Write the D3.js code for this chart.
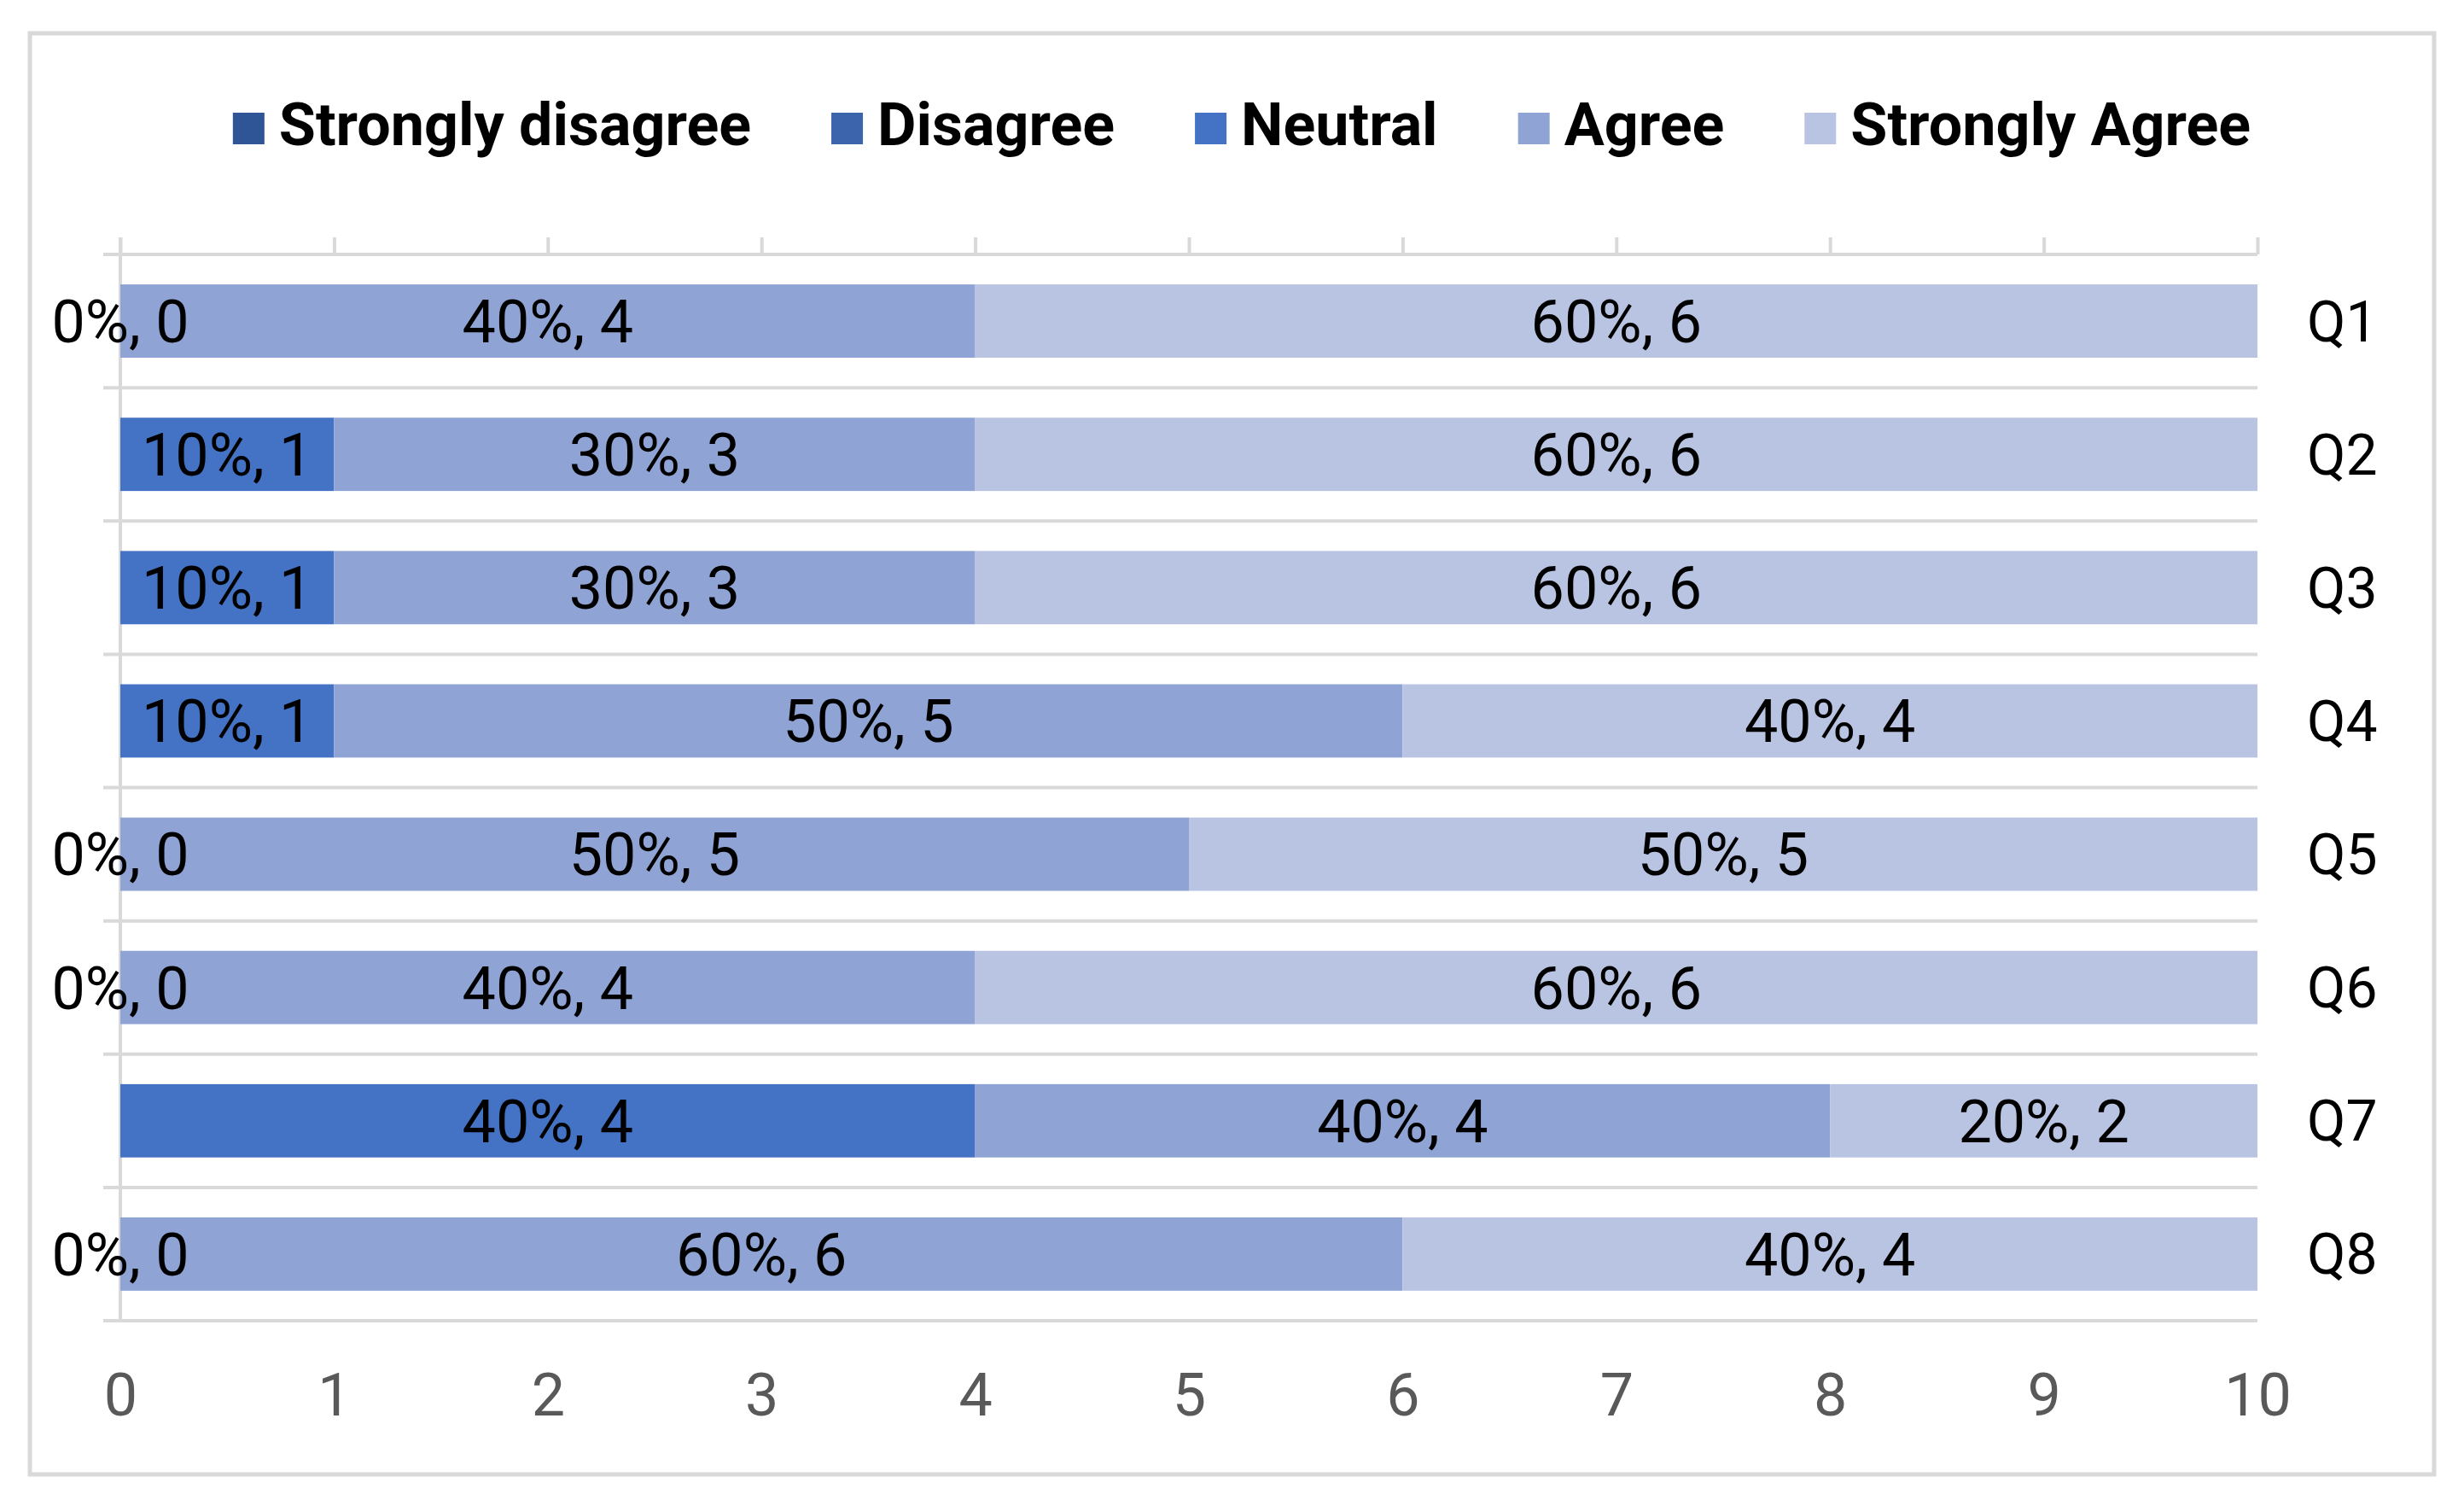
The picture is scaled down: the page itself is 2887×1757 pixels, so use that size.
<!DOCTYPE HTML>
<html>
<head>
<meta charset="utf-8">
<title>Likert</title>
<script src="https://d3js.org/d3.v7.min.js"></script>
<style>
  body { margin: 0; background: #ffffff; }
  text { font-family: Roboto, "Liberation Sans", sans-serif; }
</style>
</head>

<body>
<script>

"use strict";

const questions = ["Q1", "Q2", "Q3", "Q4", "Q5", "Q6", "Q7", "Q8"];
const series = ["Strongly disagree", "Disagree", "Neutral", "Agree", "Strongly Agree"];
const colors = ["#2F5597", "#3B64AD", "#4472C4", "#8FA4D4", "#B9C4E2"];

const stronglyDisagree = [0, 0, 0, 0, 0, 0, 0, 0];
const disagree         = [0, 0, 0, 0, 0, 0, 0, 0];
const neutral          = [0, 1, 1, 1, 0, 0, 4, 0];
const agree            = [4, 3, 3, 5, 5, 4, 4, 6];
const stronglyAgree    = [6, 6, 6, 4, 5, 6, 2, 4];

// series that carry data labels in the original
const labelled = ["Neutral", "Agree", "Strongly Agree"];
const xTicks = [0, 1, 2, 3, 4, 5, 6, 7, 8, 9, 10];

const values = [stronglyDisagree, disagree, neutral, agree, stronglyAgree];
const table = questions.map((q, i) => {
  let row = {q: q};
  series.forEach((s, j) => row[s] = values[j][i]);
  return row;
});

const W = 2887, H = 1757;
const svg = d3.select("body").append("svg")
  .attr("width", W)
  .attr("height", H);

// outer frame
svg.append("rect")
  .attr("x", 35).attr("y", 39)
  .attr("width", 2817).attr("height", 1688)
  .attr("fill", "none")
  .attr("stroke", "#d9d9d9")
  .attr("stroke-width", 5);

const x = d3.scaleLinear().domain([0, 10]).range([141, 2645]);
const y = d3.scaleBand().domain(questions).range([298, 1547])
  .paddingInner(0.45).paddingOuter(0.225);

const grid = "#d9d9d9";

// horizontal separators between categories
const step = y.step();
svg.append("g").selectAll("line")
  .data(d3.range(questions.length + 1))
  .enter()
  .append("line")
  .attr("x1", x(0) - 20)
  .attr("x2", x(10))
  .attr("y1", (d) => 298 + d * step)
  .attr("y2", (d) => 298 + d * step)
  .attr("stroke", grid)
  .attr("stroke-width", 4);

// top value axis with outward ticks
const axisT = svg.append("g")
  .attr("transform", "translate(0, 298)")
  .call(d3.axisTop(x).tickValues(xTicks).tickSize(20).tickFormat(""));
axisT.select(".domain").remove();
axisT.selectAll("line").attr("stroke", grid).attr("stroke-width", 4);

// vertical axis line at zero
svg.append("line")
  .attr("x1", x(0)).attr("x2", x(0))
  .attr("y1", 278).attr("y2", 1549)
  .attr("stroke", grid)
  .attr("stroke-width", 4);

// bars
const stack = d3.stack().keys(series)(table);
const layers = svg.append("g").selectAll("g")
  .data(stack)
  .enter()
  .append("g")
  .attr("fill", (d, i) => colors[i]);

layers.selectAll("rect")
  .data((d) => d)
  .enter()
  .append("rect")
  .attr("x", (d) => x(d[0]))
  .attr("width", (d) => x(d[1]) - x(d[0]))
  .attr("y", (d) => y(d.data.q))
  .attr("height", y.bandwidth());

// data labels
const total = (row) => d3.sum(series, (s) => row[s]);
svg.append("g").selectAll("g")
  .data(stack.filter((l) => labelled.includes(l.key)))
  .enter()
  .append("g")
  .selectAll("text")
  .data((l) => l.map((d) => ({d: d, key: l.key})))
  .enter()
  .append("text")
  .attr("x", (e) => (x(e.d[0]) + x(e.d[1])) / 2)
  .attr("y", (e) => y(e.d.data.q) + y.bandwidth() / 2)
  .attr("dy", "0.355em")
  .attr("text-anchor", "middle")
  .attr("font-size", 70)
  .attr("fill", "#000000")
  .text((e) => {
    let v = e.d.data[e.key];
    return Math.round(v / total(e.d.data) * 100) + "%, " + v;
  });

// bottom tick labels
const axisB = svg.append("g")
  .attr("transform", "translate(0, 1547)")
  .call(d3.axisBottom(x).tickValues(xTicks).tickSize(0).tickPadding(61).tickFormat(d3.format("d")));
axisB.select(".domain").remove();
axisB.selectAll("text")
  .attr("font-size", 70)
  .attr("font-family", "Roboto")
  .attr("fill", "#595959");

// category labels on the right
const axisR = svg.append("g")
  .attr("transform", "translate(" + x(10) + ", 0)")
  .call(d3.axisRight(y).tickSize(0).tickPadding(58));
axisR.select(".domain").remove();
axisR.selectAll("text")
  .attr("font-size", 66)
  .attr("font-family", "Roboto")
  .attr("dy", "0.355em")
  .attr("fill", "#000000");

// legend
const legend = svg.append("g");
const items = legend.selectAll("g")
  .data(series)
  .enter()
  .append("g");
items.append("rect")
  .attr("y", 132)
  .attr("width", 37)
  .attr("height", 37)
  .attr("fill", (d, i) => colors[i]);
items.append("text")
  .attr("x", 54)
  .attr("y", 170)
  .attr("font-size", 70)
  .attr("font-weight", "bold")
  .attr("fill", "#000000")
  .text((d) => d);

const itemGap = 94;
let offset = 0;
items.each(function () {
  let g = d3.select(this);
  g.attr("transform", "translate(" + offset + ", 0)");
  offset += 54 + g.select("text").node().getComputedTextLength() + itemGap;
});
const legendWidth = offset - itemGap;
legend.attr("transform", "translate(" + (1455 - legendWidth / 2) + ", 0)");

</script>
</body>
</html>
